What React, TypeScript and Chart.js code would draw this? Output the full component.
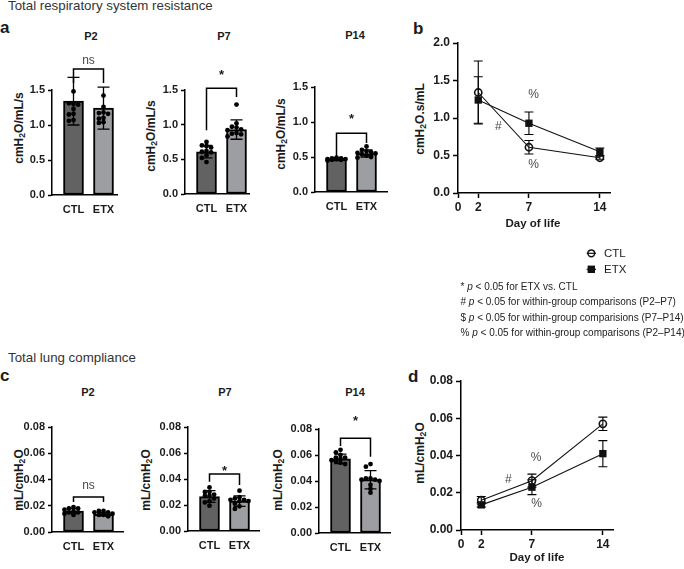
import React, { useEffect, useRef } from 'react';
import { Chart, registerables } from 'chart.js';

Chart.register(...registerables);

const FONT = "'Liberation Sans', Arial, Helvetica, sans-serif";
const INK = '#1b1b1b';
const SOFT = '#4a4a4a';
const CTL_FILL = '#626262';
const ETX_FILL = '#9c9ea2';

// ---- data ----
const GROUPS = ['CTL', 'ETX'];
const DAYS = [2, 7, 14];
const DAY_TICKS = [0, 2, 7, 14];
const RES_TICKS = [0, 0.5, 1.0, 1.5];
const RES_TREND_TICKS = [0, 0.5, 1.0, 1.5, 2.0];
const CMP_TICKS = [0, 0.02, 0.04, 0.06, 0.08];

// Total respiratory system resistance, individual animals (cmH2O/mL/s)
const RES_P2_CTL = [1.48, 1.3, 1.31, 1.29, 1.23, 1.16, 1.15, 1.07, 1.06];
const RES_P2_ETX = [1.42, 1.26, 1.18, 1.17, 1.16, 1.1, 1.09, 1.04, 1.03];
const RES_P7_CTL = [0.75, 0.7, 0.69, 0.67, 0.62, 0.61, 0.6, 0.56, 0.52, 0.46];
const RES_P7_ETX = [1.29, 1.02, 0.97, 0.96, 0.93, 0.92, 0.88, 0.87, 0.86, 0.83];
const RES_P14_CTL = [0.49, 0.48, 0.48, 0.47, 0.47, 0.47, 0.46, 0.46, 0.45];
const RES_P14_ETX = [0.65, 0.6, 0.58, 0.57, 0.56, 0.55, 0.54, 0.52, 0.5, 0.49];

// Group mean and SD per day (P2, P7, P14)
const RES_MEAN_CTL = [1.34, 0.61, 0.47];
const RES_MEAN_ETX = [1.24, 0.93, 0.55];
const RES_SD_CTL = [0.34, 0.09, 0.02];
const RES_SD_ETX = [0.3, 0.14, 0.05];
const RES_TREND_SD_CTL = [0.42, 0.09, 0.02];
const RES_TREND_SD_ETX = [0.31, 0.15, 0.05];

// Total lung compliance, individual animals (mL/cmH2O)
const CMP_P2_CTL = [0.019, 0.018, 0.018, 0.017, 0.016, 0.015, 0.015, 0.014, 0.013];
const CMP_P2_ETX = [0.016, 0.016, 0.015, 0.015, 0.014, 0.014, 0.013, 0.013, 0.012];
const CMP_P7_CTL = [0.0335, 0.03, 0.03, 0.028, 0.027, 0.027, 0.025, 0.023, 0.022, 0.0195];
const CMP_P7_ETX = [0.031, 0.026, 0.025, 0.024, 0.024, 0.023, 0.023, 0.021, 0.019, 0.017];
const CMP_P14_CTL = [0.064, 0.062, 0.06, 0.058, 0.058, 0.057, 0.056, 0.055, 0.054, 0.053];
const CMP_P14_ETX = [0.053, 0.051, 0.042, 0.042, 0.041, 0.041, 0.04, 0.037, 0.034, 0.031];

const CMP_MEAN_CTL = [0.016, 0.0265, 0.057];
const CMP_MEAN_ETX = [0.0135, 0.023, 0.041];
const CMP_SD_CTL = [0.002, 0.0045, 0.0036];
const CMP_SD_ETX = [0.0012, 0.004, 0.007];
const CMP_TREND_SD_CTL = [0.002, 0.0035, 0.0036];
const CMP_TREND_SD_ETX = [0.0012, 0.004, 0.007];

// ---- layout helpers ----
type Area = { l: number; t: number; r: number; b: number };
type Box = { x: number; y: number; w: number; h: number };

const YW = 36; // width reserved for y tick marks + labels
const XH = 26; // height reserved for x tick marks + labels
const GROUP_PX = 30; // pixels between the CTL and ETX columns
const GROUP_LEAD = 21.5; // y axis to first column centre

function frame(area: Area, top: number, right: number) {
  const box: Box = {
    x: area.l - YW - 2,
    y: area.t - top,
    w: area.r - area.l + YW + 2 + right,
    h: top + (area.b - area.t) + XH + 2,
  };
  return { box, padding: { left: 2, top, right, bottom: 2 } };
}

const columnFont = { family: FONT, size: 11, weight: 'bold' as const };
const trendFont = { family: FONT, size: 12, weight: 'bold' as const };

function yScale(ticks: number[], digits: number, font: any, tickLength: number) {
  return {
    type: 'linear' as const,
    min: ticks[0],
    max: ticks[ticks.length - 1],
    afterBuildTicks: (s: any) => {
      s.ticks = ticks.map((v) => ({ value: v }));
    },
    afterFit: (s: any) => {
      s.width = YW;
    },
    ticks: {
      callback: (v: any) => Number(v).toFixed(digits),
      color: INK,
      font,
      padding: 3,
    },
    grid: { drawOnChartArea: false, tickLength, tickColor: '#000', tickWidth: 1.5 },
    border: { color: '#000', width: 1.5 },
  };
}

function groupScale(area: Area) {
  const min = -GROUP_LEAD / GROUP_PX;
  const max = min + (area.r - area.l) / GROUP_PX;
  return {
    type: 'linear' as const,
    min,
    max,
    offset: false,
    afterBuildTicks: (s: any) => {
      s.ticks = GROUPS.map((_, i) => ({ value: i }));
    },
    afterFit: (s: any) => {
      s.height = XH;
    },
    ticks: {
      callback: (v: any) => GROUPS[Math.round(Number(v))],
      color: INK,
      font: columnFont,
      padding: 4,
      autoSkip: false,
      maxRotation: 0,
    },
    grid: { drawOnChartArea: false, offset: false, tickLength: 4, tickColor: 'rgba(0,0,0,0)' },
    border: { color: '#000', width: 1.5 },
  };
}

function dayScale() {
  return {
    type: 'linear' as const,
    min: 0,
    max: 15,
    afterBuildTicks: (s: any) => {
      s.ticks = DAY_TICKS.map((v) => ({ value: v }));
    },
    afterFit: (s: any) => {
      s.height = XH;
    },
    ticks: { callback: (v: any) => String(v), color: INK, font: trendFont, padding: 2, autoSkip: false, maxRotation: 0 },
    grid: { drawOnChartArea: false, tickLength: 5, tickColor: '#000', tickWidth: 1.5 },
    border: { color: '#000', width: 1.5 },
  };
}

// Horizontal spread of the individual dots inside a column (pixels).
function swarm(values: number[], pxPerUnit: number): number[] {
  const placed: { y: number; o: number }[] = [];
  const slots = [0, -4.6, 4.6, -9, 9];
  return values.map((v) => {
    const y = v * pxPerUnit;
    let best = 0;
    let bestHits = Infinity;
    for (const o of slots) {
      const hits = placed.filter((p) => Math.abs(p.y - y) < 3.6 && Math.abs(p.o - o) < 4.2).length;
      if (hits < bestHits) {
        bestHits = hits;
        best = o;
      }
      if (hits === 0) break;
    }
    placed.push({ y, o: best });
    return best;
  });
}

function errorBar(ctx: CanvasRenderingContext2D, x: number, yHi: number, yLo: number, cap: number, width: number) {
  ctx.beginPath();
  ctx.moveTo(x, yHi);
  ctx.lineTo(x, yLo);
  ctx.moveTo(x - cap / 2, yHi);
  ctx.lineTo(x + cap / 2, yHi);
  ctx.moveTo(x - cap / 2, yLo);
  ctx.lineTo(x + cap / 2, yLo);
  ctx.lineWidth = width;
  ctx.strokeStyle = '#000';
  ctx.stroke();
}

type Bracket = { top: number; left: number; right: number; label: string; labelY: number };

function ChartCanvas({ box, build }: { box: Box; build: () => any }) {
  const ref = useRef<HTMLCanvasElement>(null);
  useEffect(() => {
    const chart = new Chart(ref.current as HTMLCanvasElement, build());
    return () => chart.destroy();
  }, []);
  return (
    <canvas
      ref={ref}
      width={box.w}
      height={box.h}
      style={{ position: 'absolute', left: box.x, top: box.y, width: box.w, height: box.h }}
    />
  );
}

type ColumnPanel = {
  area: Area;
  top: number;
  ticks: number[];
  digits: number;
  ctl: number[];
  etx: number[];
  mean: number[];
  sd: number[];
  bracket: Bracket;
};

function ColumnChart({ p }: { p: ColumnPanel }) {
  const { box, padding } = frame(p.area, p.top, 6);
  const build = () => {
    const yMax = p.ticks[p.ticks.length - 1];
    const pxPerUnit = (p.area.b - p.area.t) / yMax;
    const offC = swarm(p.ctl, pxPerUnit);
    const offE = swarm(p.etx, pxPerUnit);
    const dots = [
      ...p.ctl.map((v, k) => ({ x: offC[k] / GROUP_PX, y: v })),
      ...p.etx.map((v, k) => ({ x: 1 + offE[k] / GROUP_PX, y: v })),
    ];
    const overlay = {
      id: 'columnOverlay',
      beforeDatasetDraw(chart: any, args: any) {
        if (args.index !== 0) return;
        const { ctx, scales } = chart;
        ctx.save();
        p.mean.forEach((m, i) => {
          errorBar(ctx, scales.x.getPixelForValue(i), scales.y.getPixelForValue(m + p.sd[i]), scales.y.getPixelForValue(m - p.sd[i]), 12, 1.3);
        });
        ctx.restore();
      },
      afterDatasetsDraw(chart: any) {
        const { ctx, scales } = chart;
        const b = p.bracket;
        const x0 = scales.x.getPixelForValue(0);
        const x1 = scales.x.getPixelForValue(1);
        ctx.save();
        ctx.beginPath();
        ctx.moveTo(x0, scales.y.getPixelForValue(b.left));
        ctx.lineTo(x0, scales.y.getPixelForValue(b.top));
        ctx.lineTo(x1, scales.y.getPixelForValue(b.top));
        ctx.lineTo(x1, scales.y.getPixelForValue(b.right));
        ctx.lineWidth = 1.5;
        ctx.strokeStyle = '#000';
        ctx.stroke();
        ctx.textAlign = 'center';
        ctx.textBaseline = 'alphabetic';
        if (b.label === 'ns') {
          ctx.font = `400 12px ${FONT}`;
          ctx.fillStyle = SOFT;
        } else {
          ctx.font = `700 13px ${FONT}`;
          ctx.fillStyle = INK;
        }
        ctx.fillText(b.label, (x0 + x1) / 2, scales.y.getPixelForValue(b.labelY));
        ctx.restore();
      },
    };
    return {
      type: 'bar',
      data: {
        datasets: [
          {
            type: 'scatter',
            data: dots,
            pointRadius: 2.4,
            pointBackgroundColor: '#000',
            pointBorderWidth: 0,
            clip: false,
            order: 0,
          },
          {
            type: 'bar',
            data: GROUPS.map((_, i) => ({ x: i, y: p.mean[i] })),
            backgroundColor: [CTL_FILL, ETX_FILL],
            borderColor: '#000',
            borderWidth: 2,
            borderSkipped: false,
            barThickness: 20,
            order: 1,
          },
        ],
      },
      options: {
        responsive: false,
        animation: false,
        devicePixelRatio: 1,
        events: [],
        layout: { padding },
        plugins: { legend: { display: false }, tooltip: { enabled: false } },
        scales: { x: groupScale(p.area), y: yScale(p.ticks, p.digits, columnFont, 4) },
      },
      plugins: [overlay],
    };
  };
  return <ChartCanvas box={box} build={build} />;
}

type TrendPanel = {
  area: Area;
  ticks: number[];
  digits: number;
  ctl: number[];
  etx: number[];
  sdCtl: number[];
  sdEtx: number[];
  notes: { text: string; x: number; y: number }[];
};

function TrendChart({ p }: { p: TrendPanel }) {
  const { box, padding } = frame(p.area, 12, 10);
  const build = () => {
    const overlay = {
      id: 'trendOverlay',
      beforeDatasetsDraw(chart: any) {
        const { ctx, scales } = chart;
        ctx.save();
        DAYS.forEach((d, i) => {
          const x = scales.x.getPixelForValue(d);
          errorBar(ctx, x, scales.y.getPixelForValue(p.ctl[i] + p.sdCtl[i]), scales.y.getPixelForValue(p.ctl[i] - p.sdCtl[i]), 9, 1.1);
          errorBar(ctx, x, scales.y.getPixelForValue(p.etx[i] + p.sdEtx[i]), scales.y.getPixelForValue(p.etx[i] - p.sdEtx[i]), 9, 1.1);
        });
        ctx.restore();
      },
      afterDatasetsDraw(chart: any) {
        const { ctx, scales } = chart;
        ctx.save();
        ctx.font = `400 12px ${FONT}`;
        ctx.fillStyle = SOFT;
        ctx.textAlign = 'center';
        ctx.textBaseline = 'alphabetic';
        p.notes.forEach((n) => ctx.fillText(n.text, scales.x.getPixelForValue(n.x), scales.y.getPixelForValue(n.y)));
        ctx.restore();
      },
    };
    return {
      type: 'line',
      data: {
        datasets: [
          {
            label: 'CTL',
            data: DAYS.map((d, i) => ({ x: d, y: p.ctl[i] })),
            borderColor: '#111',
            borderWidth: 1.1,
            pointStyle: 'circle',
            pointRadius: 3.6,
            pointBorderWidth: 1.6,
            pointBackgroundColor: 'rgba(255,255,255,0)',
            pointBorderColor: '#111',
            clip: false,
          },
          {
            label: 'ETX',
            data: DAYS.map((d, i) => ({ x: d, y: p.etx[i] })),
            borderColor: '#111',
            borderWidth: 1.1,
            pointStyle: 'rect',
            pointRadius: 5.2,
            pointBorderWidth: 0,
            pointBackgroundColor: '#111',
            pointBorderColor: '#111',
            clip: false,
          },
        ],
      },
      options: {
        responsive: false,
        animation: false,
        devicePixelRatio: 1,
        events: [],
        layout: { padding },
        plugins: { legend: { display: false }, tooltip: { enabled: false } },
        scales: { x: dayScale(), y: yScale(p.ticks, p.digits, trendFont, 5) },
      },
      plugins: [overlay],
    };
  };
  return <ChartCanvas box={box} build={build} />;
}

// ---- text helpers ----
function Text({
  x,
  y,
  size,
  weight = 400,
  color = INK,
  anchor = 'start',
  children,
}: {
  x: number;
  y: number;
  size: number;
  weight?: number;
  color?: string;
  anchor?: 'start' | 'middle';
  children: React.ReactNode;
}) {
  return (
    <div
      style={{
        position: 'absolute',
        left: x,
        top: y - 0.8465 * size,
        fontSize: size,
        lineHeight: `${size}px`,
        fontWeight: weight,
        color,
        whiteSpace: 'nowrap',
        transform: anchor === 'middle' ? 'translateX(-50%)' : undefined,
      }}
    >
      {children}
    </div>
  );
}

const Sub = ({ children }: { children: React.ReactNode }) => (
  <sub style={{ fontSize: '0.72em', verticalAlign: '-0.28em', lineHeight: 0 }}>{children}</sub>
);

function YTitle({ cx, cy, children }: { cx: number; cy: number; children: React.ReactNode }) {
  return (
    <div
      style={{
        position: 'absolute',
        left: cx,
        top: cy,
        transform: 'translate(-50%, -50%) rotate(-90deg)',
        fontSize: 12,
        fontWeight: 700,
        lineHeight: '12px',
        whiteSpace: 'nowrap',
        color: INK,
      }}
    >
      {children}
    </div>
  );
}

const resUnit = (
  <>
    cmH<Sub>2</Sub>O/mL/s
  </>
);
const cmpUnit = (
  <>
    mL/cmH<Sub>2</Sub>O
  </>
);

const RES_COLUMNS: (ColumnPanel & { title: string; tx: number; ty: number; yt: [number, number] })[] = [
  {
    title: 'P2', tx: 91, ty: 40, yt: [19, 128],
    area: { l: 52, t: 90, r: 117, b: 195 }, top: 42, ticks: RES_TICKS, digits: 1,
    ctl: RES_P2_CTL, etx: RES_P2_ETX,
    mean: [RES_MEAN_CTL[0], RES_MEAN_ETX[0]], sd: [RES_SD_CTL[0], RES_SD_ETX[0]],
    bracket: { top: 1.8, left: 1.6, right: 1.6, label: 'ns', labelY: 1.87 },
  },
  {
    title: 'P7', tx: 224, ty: 40, yt: [151, 136],
    area: { l: 185, t: 90, r: 249, b: 194 }, top: 42, ticks: RES_TICKS, digits: 1,
    ctl: RES_P7_CTL, etx: RES_P7_ETX,
    mean: [RES_MEAN_CTL[1], RES_MEAN_ETX[1]], sd: [RES_SD_CTL[1], RES_SD_ETX[1]],
    bracket: { top: 1.525, left: 0.92, right: 1.4, label: '*', labelY: 1.66 },
  },
  {
    title: 'P14', tx: 355, ty: 39, yt: [281, 134],
    area: { l: 315, t: 87, r: 387, b: 192 }, top: 42, ticks: RES_TICKS, digits: 1,
    ctl: RES_P14_CTL, etx: RES_P14_ETX,
    mean: [RES_MEAN_CTL[2], RES_MEAN_ETX[2]], sd: [RES_SD_CTL[2], RES_SD_ETX[2]],
    bracket: { top: 0.84, left: 0.5, right: 0.7, label: '*', labelY: 0.98 },
  },
];

const CMP_COLUMNS: (ColumnPanel & { title: string; tx: number; ty: number; yt: [number, number] })[] = [
  {
    title: 'P2', tx: 88, ty: 396, yt: [19, 480],
    area: { l: 52, t: 427, r: 123, b: 532 }, top: 20, ticks: CMP_TICKS, digits: 2,
    ctl: CMP_P2_CTL, etx: CMP_P2_ETX,
    mean: [CMP_MEAN_CTL[0], CMP_MEAN_ETX[0]], sd: [CMP_SD_CTL[0], CMP_SD_ETX[0]],
    bracket: { top: 0.0267, left: 0.0229, right: 0.0229, label: 'ns', labelY: 0.0328 },
  },
  {
    title: 'P7', tx: 225, ty: 396, yt: [146, 480],
    area: { l: 188, t: 427, r: 259, b: 531 }, top: 20, ticks: CMP_TICKS, digits: 2,
    ctl: CMP_P7_CTL, etx: CMP_P7_ETX,
    mean: [CMP_MEAN_CTL[1], CMP_MEAN_ETX[1]], sd: [CMP_SD_CTL[1], CMP_SD_ETX[1]],
    bracket: { top: 0.0438, left: 0.0379, right: 0.0354, label: '*', labelY: 0.0431 },
  },
  {
    title: 'P14', tx: 355, ty: 396, yt: [278, 480],
    area: { l: 319, t: 429, r: 390, b: 533 }, top: 20, ticks: CMP_TICKS, digits: 2,
    ctl: CMP_P14_CTL, etx: CMP_P14_ETX,
    mean: [CMP_MEAN_CTL[2], CMP_MEAN_ETX[2]], sd: [CMP_SD_CTL[2], CMP_SD_ETX[2]],
    bracket: { top: 0.0728, left: 0.0669, right: 0.0587, label: '*', labelY: 0.083 },
  },
];

const RES_TREND: TrendPanel = {
  area: { l: 458, t: 43, r: 610, b: 193 },
  ticks: RES_TREND_TICKS,
  digits: 1,
  ctl: RES_MEAN_CTL,
  etx: RES_MEAN_ETX,
  sdCtl: RES_TREND_SD_CTL,
  sdEtx: RES_TREND_SD_ETX,
  notes: [
    { text: '%', x: 7.45, y: 1.263 },
    { text: '#', x: 3.99, y: 0.84 },
    { text: '%', x: 7.45, y: 0.33 },
  ],
};

const CMP_TREND: TrendPanel = {
  area: { l: 461, t: 381, r: 613, b: 530 },
  ticks: CMP_TICKS,
  digits: 2,
  ctl: CMP_MEAN_CTL,
  etx: CMP_MEAN_ETX,
  sdCtl: CMP_TREND_SD_CTL,
  sdEtx: CMP_TREND_SD_ETX,
  notes: [
    { text: '%', x: 7.4, y: 0.0371 },
    { text: '#', x: 4.67, y: 0.0254 },
    { text: '%', x: 7.47, y: 0.0123 },
  ],
};

const P = () => <i>p</i>;

export default function App() {
  return (
    <div
      style={{
        position: 'absolute',
        left: 0,
        top: 0,
        width: 684,
        height: 569,
        overflow: 'hidden',
        background: '#fff',
        fontFamily: FONT,
        color: INK,
      }}
    >
      <Text x={8} y={9.8} size={13.3} color="#333">Total respiratory system resistance</Text>
      <Text x={0} y={33} size={17} weight={700}>a</Text>
      <Text x={413} y={34} size={17} weight={700}>b</Text>
      <Text x={8} y={362} size={13.3} color="#333">Total lung compliance</Text>
      <Text x={0} y={381} size={17} weight={700}>c</Text>
      <Text x={408} y={382} size={17} weight={700}>d</Text>

      {RES_COLUMNS.map((p) => (
        <React.Fragment key={'r' + p.title}>
          <Text x={p.tx} y={p.ty} size={11} weight={700} anchor="middle">{p.title}</Text>
          <YTitle cx={p.yt[0]} cy={p.yt[1]}>{resUnit}</YTitle>
          <ColumnChart p={p} />
        </React.Fragment>
      ))}
      {CMP_COLUMNS.map((p) => (
        <React.Fragment key={'c' + p.title}>
          <Text x={p.tx} y={p.ty} size={11} weight={700} anchor="middle">{p.title}</Text>
          <YTitle cx={p.yt[0]} cy={p.yt[1]}>{cmpUnit}</YTitle>
          <ColumnChart p={p} />
        </React.Fragment>
      ))}

      <YTitle cx={420} cy={119}>
        cmH<Sub>2</Sub>O.s/mL
      </YTitle>
      <TrendChart p={RES_TREND} />
      <Text x={533} y={227.5} size={11.5} weight={700} anchor="middle">Day of life</Text>

      <YTitle cx={420} cy={453}>{cmpUnit}</YTitle>
      <TrendChart p={CMP_TREND} />
      <Text x={537} y={562} size={11.5} weight={700} anchor="middle">Day of life</Text>

      <svg style={{ position: 'absolute', left: 584, top: 246 }} width={16} height={30}>
        <line x1={2.7} y1={7.3} x2={12} y2={7.3} stroke="#111" strokeWidth={1.2} />
        <circle cx={7.3} cy={7.3} r={3.4} fill="none" stroke="#111" strokeWidth={1.5} />
        <line x1={2.7} y1={23.3} x2={12} y2={23.3} stroke="#111" strokeWidth={1.2} />
        <rect x={3.6} y={19.6} width={7.4} height={7.4} fill="#111" />
      </svg>
      <Text x={604} y={257.3} size={11.5}>CTL</Text>
      <Text x={604} y={273.3} size={11.5}>ETX</Text>

      <Text x={460.5} y={290} size={10} color="#222">
        * <P /> &lt; 0.05 for ETX vs. CTL
      </Text>
      <Text x={460.5} y={305.5} size={10} color="#222">
        # <P /> &lt; 0.05 for within-group comparisons (P2–P7)
      </Text>
      <Text x={460.5} y={321} size={10} color="#222">
        $ <P /> &lt; 0.05 for within-group comparisions (P7–P14)
      </Text>
      <Text x={460.5} y={336.5} size={10} color="#222">
        % <P /> &lt; 0.05 for within-group comparisons (P2–P14)
      </Text>
    </div>
  );
}
